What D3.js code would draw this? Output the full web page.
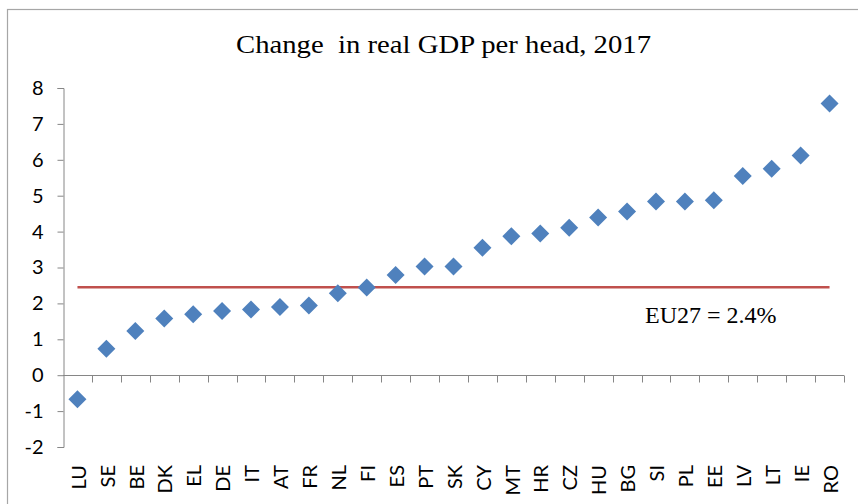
<!DOCTYPE html>
<html>
<head>
<meta charset="utf-8">
<script src="https://cdn.jsdelivr.net/npm/d3@7"></script>
<style>
    html, body { margin: 0; padding: 0; background: #fff; }
    svg { display: block; }
</style>
</head>
<body>
<div id="chart"></div>
<script>
const countries = ["LU", "SE", "BE", "DK", "EL", "DE", "IT", "AT", "FR", "NL", "FI", "ES", "PT", "SK",
    "CY", "MT", "HR", "CZ", "HU", "BG", "SI", "PL", "EE", "LV", "LT", "IE", "RO"];
const gdpChange = [-0.67, 0.74, 1.23, 1.58, 1.70, 1.79, 1.83, 1.90, 1.94, 2.28, 2.44, 2.79, 3.03, 3.03,
    3.55, 3.87, 3.95, 4.11, 4.39, 4.56, 4.84, 4.84, 4.87, 5.55, 5.75, 6.12, 7.57];
const yTicks = [-2, -1, 0, 1, 2, 3, 4, 5, 6, 7, 8];
const euAverage = 2.45;
const euLabel = "EU27 = 2.4%";
const title = "Change\u00a0 in real GDP per head, 2017";

const width = 858, height = 504;
const svg = d3.select("#chart").append("svg")
    .attr("width", width)
    .attr("height", height);

// chart frame
svg.append("rect")
    .attr("x", 7.5).attr("y", 9.5)
    .attr("width", 900).attr("height", 600)
    .attr("fill", "none")
    .attr("stroke", "#a6a6a6")
    .attr("stroke-width", 1.2);

const x = d3.scaleBand().domain(countries).range([63, 844]).padding(0);
const y = d3.scaleLinear().domain([-2, 8]).range([447, 88]);

const axisColor = "#868686";
const sans = "Lato, 'Open Sans', sans-serif";
const serif = "'Liberation Serif', 'Times New Roman', serif";

// y axis
const yAxis = svg.append("g")
    .attr("transform", "translate(63.5,0)")
    .call(d3.axisLeft(y)
        .tickValues(yTicks)
        .tickFormat(d => String(d))
        .tickSize(6).tickPadding(14).tickSizeOuter(6));
yAxis.select(".domain").attr("stroke", axisColor);
yAxis.selectAll(".tick line").attr("stroke", axisColor);
yAxis.selectAll(".tick text")
    .attr("fill", "#000")
    .style("font-family", sans)
    .style("font-size", "20px");

// x axis at zero, ticks between categories
const xAxis = svg.append("g").attr("transform", `translate(0,${Math.round(y(0)) + 0.5})`);
xAxis.append("line")
    .attr("x1", x.range()[0]).attr("x2", x.range()[1])
    .attr("stroke", axisColor);
xAxis.selectAll("line.tick")
    .data(countries)
    .enter()
    .append("line")
    .attr("class", "tick")
    .attr("x1", d => Math.round(x(d) + x.bandwidth()) + 0.5)
    .attr("x2", d => Math.round(x(d) + x.bandwidth()) + 0.5)
    .attr("y1", 0).attr("y2", 7)
    .attr("stroke", axisColor);

// category labels at the bottom, rotated
svg.selectAll("text.cat")
    .data(countries)
    .enter()
    .append("text")
    .attr("class", "cat")
    .attr("transform", d => `translate(${x(d) + x.bandwidth() / 2 + 1},465) rotate(-90)`)
    .attr("text-anchor", "end")
    .attr("dy", "0.36em")
    .style("font-family", sans)
    .style("font-size", "20px")
    .attr("fill", "#000")
    .text(d => d);

// EU average line
svg.append("line")
    .attr("x1", x(countries[0]) + x.bandwidth() / 2)
    .attr("x2", x(countries[countries.length - 1]) + x.bandwidth() / 2)
    .attr("y1", y(euAverage)).attr("y2", y(euAverage))
    .attr("stroke", "#C0504D")
    .attr("stroke-width", 2.5);

// diamonds
svg.selectAll("path.pt")
    .data(countries.map((c, i) => ({c, v: gdpChange[i]})))
    .enter()
    .append("path")
    .attr("class", "pt")
    .attr("transform", d => `translate(${x(d.c) + x.bandwidth() / 2},${y(d.v)})`)
    .attr("d", "M0,-9L9,0L0,9L-9,0Z")
    .attr("fill", "#4F81BD");

svg.append("text")
    .attr("x", 236).attr("y", 53)
    .attr("textLength", 415)
    .attr("lengthAdjust", "spacingAndGlyphs")
    .style("font-family", serif)
    .style("font-size", "26px")
    .attr("fill", "#000")
    .text(title);

svg.append("text")
    .attr("x", 645).attr("y", 323)
    .style("font-family", serif)
    .style("font-size", "24px")
    .attr("fill", "#000")
    .text(euLabel);
</script>
</body>
</html>
